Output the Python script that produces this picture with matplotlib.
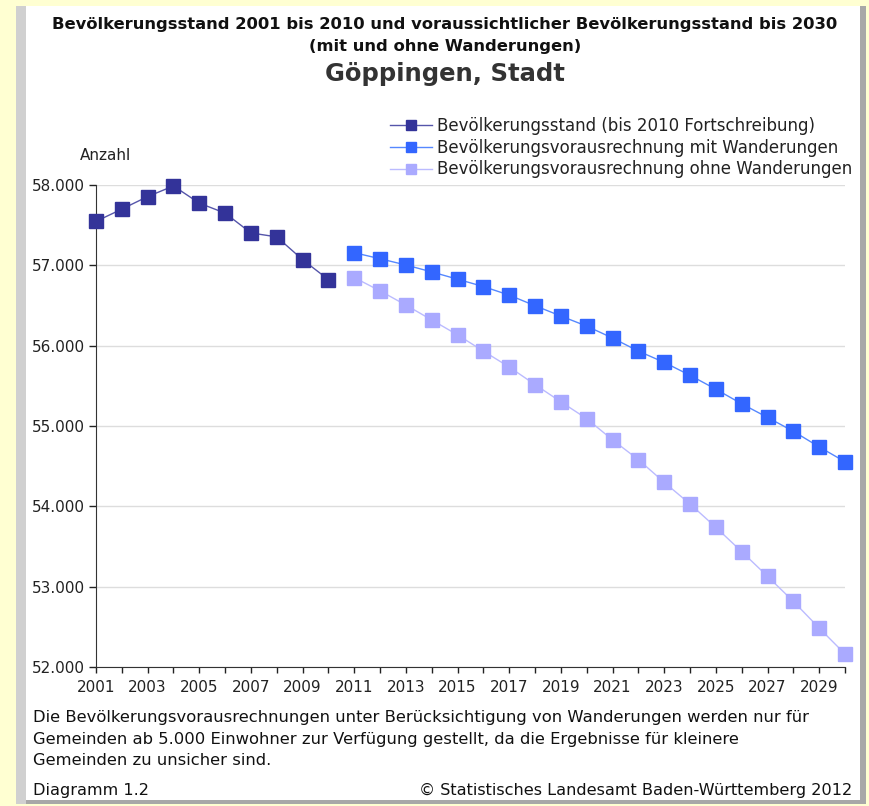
import numpy as np
import matplotlib
matplotlib.use("Agg")
import matplotlib.pyplot as plt
from matplotlib.patches import Rectangle

# data
years_hist = list(range(2001, 2011))
pop_hist = [57547, 57700, 57856, 57988, 57774, 57650, 57403, 57354, 57070, 56822]

years_proj = list(range(2011, 2031))
pop_mit = [57157, 57082, 57004, 56918, 56827, 56736, 56629, 56497, 56369, 56243,
           56095, 55932, 55792, 55631, 55458, 55276, 55107, 54934, 54740, 54555]
pop_ohne = [56847, 56682, 56505, 56320, 56134, 55932, 55734, 55515, 55301, 55091,
            54827, 54581, 54299, 54029, 53739, 53436, 53129, 52817, 52485, 52162]

yticks = [52000, 53000, 54000, 55000, 56000, 57000, 58000]
ytick_labels = ["52.000", "53.000", "54.000", "55.000", "56.000", "57.000", "58.000"]
xtick_labels_years = list(range(2001, 2030, 2))

legend_labels = ["Bevölkerungsstand (bis 2010 Fortschreibung)",
                 "Bevölkerungsvorausrechnung mit Wanderungen",
                 "Bevölkerungsvorausrechnung ohne Wanderungen"]

title1 = "Bevölkerungsstand 2001 bis 2010 und voraussichtlicher Bevölkerungsstand bis 2030"
title2 = "(mit und ohne Wanderungen)"
title3 = "Göppingen, Stadt"
note = ("Die Bevölkerungsvorausrechnungen unter Berücksichtigung von Wanderungen werden nur für\n"
        "Gemeinden ab 5.000 Einwohner zur Verfügung gestellt, da die Ergebnisse für kleinere\n"
        "Gemeinden zu unsicher sind.")

W, H = 870, 806
fig = plt.figure(figsize=(W / 100, H / 100), dpi=100)
fig.patch.set_facecolor("#FFFFD2")

def px(x, y):
    return x / W, 1 - y / H

# white panel with grey bevel
fig.patches.append(Rectangle(px(16, 804), 850 / W, 798 / H, transform=fig.transFigure,
                             facecolor="#A8A8A8", edgecolor="none", zorder=-10))
fig.patches.append(Rectangle(px(26, 800), 834 / W, 794 / H, transform=fig.transFigure,
                             facecolor="white", edgecolor="none", zorder=-9))
fig.patches.append(Rectangle(px(16, 804), 10 / W, 798 / H, transform=fig.transFigure,
                             facecolor="#D0D0D0", edgecolor="none", zorder=-9))

ax = fig.add_axes([96 / W, 1 - 667 / H, (845 - 96) / W, (667 - 185) / H])
ax.set_facecolor("none")
ax.set_zorder(1)

c_hist, c_mit, c_ohne = "#333399", "#3366FF", "#AAAAFF"
ms = 9.5
ax.plot(years_hist, pop_hist, color="#5555AA", lw=1, marker="s", ms=ms,
        mfc=c_hist, mec=c_hist, clip_on=False, zorder=3, label=legend_labels[0])
ax.plot(years_proj, pop_mit, color="#5588FF", lw=1, marker="s", ms=ms,
        mfc=c_mit, mec=c_mit, clip_on=False, zorder=3, label=legend_labels[1])
ax.plot(years_proj, pop_ohne, color="#BBBBFF", lw=1, marker="s", ms=ms,
        mfc=c_ohne, mec=c_ohne, clip_on=False, zorder=3, label=legend_labels[2])

ax.set_xlim(2001, 2030)
ax.set_ylim(52000, 58000)
ax.set_yticks(yticks)
ax.set_yticklabels(ytick_labels)
ax.set_xticks(range(2001, 2031))
ax.set_xticklabels([str(y) if y in xtick_labels_years else "" for y in range(2001, 2031)])
ax.tick_params(axis="both", labelsize=11, colors="#222222", length=5, width=1)
ax.tick_params(axis="x", length=4, pad=5)
ax.tick_params(axis="y", pad=3)
ax.grid(axis="y", color="#DDDDDD", lw=1)
ax.set_axisbelow(True)
for s in ["top", "right"]:
    ax.spines[s].set_visible(False)
for s in ["left", "bottom"]:
    ax.spines[s].set_color("#333333")

leg = ax.legend(loc="upper left", bbox_to_anchor=((390 - 96) / (845 - 96), (185 - 117) / (667 - 185) + 1),
                frameon=False, fontsize=12, handlelength=2.5, handletextpad=0.3,
                labelspacing=0.22, markerscale=0.75, borderaxespad=0, borderpad=0)
for t in leg.get_texts():
    t.set_color("#222222")

fig.text(*px(445, 24), title1, ha="center", va="center", fontsize=11.8, fontweight="bold",
         color="#111111")
fig.text(*px(445, 46), title2, ha="center", va="center", fontsize=11.8, fontweight="bold",
         color="#111111")
fig.text(*px(445, 74), title3, ha="center", va="center", fontsize=17.5, fontweight="bold",
         color="#333333")
fig.text(*px(80, 155), "Anzahl", ha="left", va="center", fontsize=11, color="#222222")
fig.text(*px(33, 710), note, ha="left", va="top", fontsize=11.8, color="#111111",
         linespacing=1.55)
fig.text(*px(33, 790), "Diagramm 1.2", ha="left", va="center", fontsize=11.6, color="#111111")
fig.text(*px(852, 790), "© Statistisches Landesamt Baden-Württemberg 2012", ha="right",
         va="center", fontsize=11.6, color="#111111")

fig.savefig("out.png", dpi=100, facecolor=fig.get_facecolor())
